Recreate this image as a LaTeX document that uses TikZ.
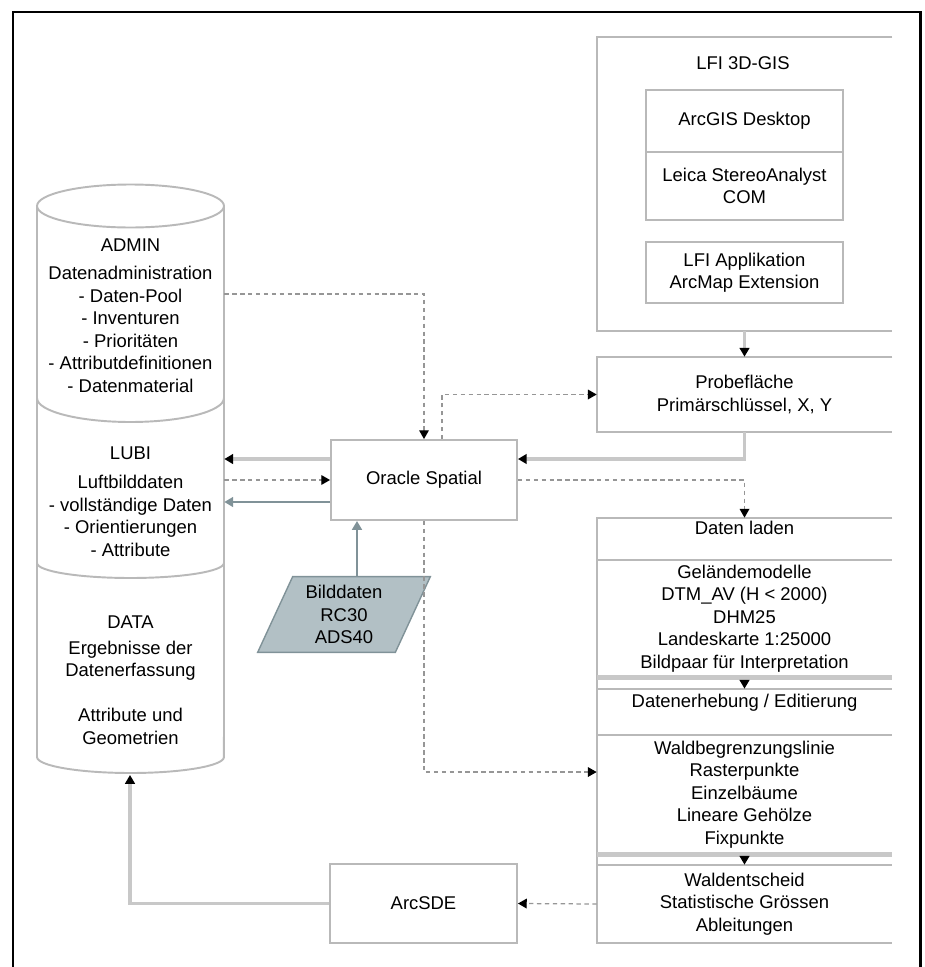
\documentclass[tikz,border=0pt]{standalone}
\usepackage{fontspec}
\setmainfont{Liberation Sans}
\usetikzlibrary{arrows.meta,positioning}

\definecolor{boxgray}{RGB}{185,185,185}
\definecolor{linegray}{RGB}{200,200,200}
\definecolor{dotgray}{RGB}{150,150,150}
\definecolor{bluegray}{RGB}{128,146,152}
\definecolor{bildfill}{RGB}{178,192,197}

\tikzset{
  boxline/.style={draw=boxgray, line width=1.1pt},
  txt/.style={align=center, inner sep=0pt, font=\fontsize{10.5}{12.8}\selectfont},
  framebox/.style={txt, boxline},
  openbox/.style={txt, minimum width=5.9cm},
  headbox/.style={openbox, text depth=0.43cm},
  solidarrow/.style={draw=linegray, line width=2.2pt, -{Triangle[length=5pt,width=5.5pt,color=black]}},
  dotarrow/.style={draw=dotgray, line width=0.7pt, dash pattern=on 2.5pt off 2pt, -{Triangle[length=5pt,width=5.5pt,color=black]}},
  bluearrow/.style={draw=bluegray, line width=1.4pt, -{Triangle[length=5pt,width=5.5pt]}}
}

\begin{document}
\begin{tikzpicture}[x=0.02cm, y=-0.02cm]
  \useasboundingbox (0,0) rectangle (925,967);

  % Outer frame
  \draw[line width=1.7pt] (13,967) -- (13,12) -- (920,12) -- (920,967);

  % Database cylinder
  \draw[boxline, fill=white] (37,206) -- (37,757)
    arc[start angle=180, end angle=360, x radius=1.87cm, y radius=0.32cm] -- (224,206);
  \draw[boxline] (130.5,206) ellipse[x radius=1.87cm, y radius=0.43cm];
  \draw[boxline] (37,398) arc[start angle=180, end angle=360, x radius=1.87cm, y radius=0.48cm];
  \draw[boxline] (37,563) arc[start angle=180, end angle=360, x radius=1.87cm, y radius=0.3cm];
  \coordinate (cylbot) at (130,775);

  \node[txt, minimum width=3.74cm] (admin) at (130.5,315.5)
    {ADMIN\\[3.5pt]Datenadministration\\- Daten-Pool\\- Inventuren\\- Prioritäten\\- Attributdefinitionen\\- Datenmaterial};
  \node[txt, minimum width=3.74cm] (lubi) at (130.5,501.5)
    {LUBI\\[4pt]Luftbilddaten\\- vollständige Daten\\- Orientierungen\\- Attribute};
  \node[txt, minimum width=3.74cm] (data) at (130.5,680)
    {DATA\\[2pt]Ergebnisse der\\Datenerfassung\\[12.8pt]Attribute und\\Geometrien};

  % LFI 3D-GIS
  \node[openbox, minimum height=5.88cm] (gis) at (744.5,184) {};
  \node[txt] (gistitle) at (743,63) {LFI 3D-GIS};
  \node[framebox, minimum width=3.94cm, minimum height=1.24cm] (arcgis) at (744.5,121) {ArcGIS Desktop};
  \node[framebox, minimum width=3.94cm, minimum height=1.36cm] (leica) at (744.5,186) {Leica StereoAnalyst\\COM};
  \node[framebox, minimum width=3.94cm, minimum height=1.22cm] (lfiapp) at (744.5,272.5) {LFI Applikation\\ArcMap Extension};
  \draw[boxline] (gis.north east) -- (gis.north west) -- (gis.south west) -- (gis.south east);

  \node[openbox, minimum height=1.5cm] (probe) at (744.5,394.5) {Probefläche\\Primärschlüssel, X, Y};
  \draw[boxline] (probe.north east) -- (probe.north west) -- (probe.south west) -- (probe.south east);

  \node[framebox, minimum width=3.72cm, minimum height=1.6cm] (oracle) at (424,480) {Oracle Spatial};

  % Workflow column
  \node[headbox, minimum height=0.84cm] (laden) at (744.5,539) {Daten laden};
  \node[openbox, minimum height=2.34cm] (gelaende) at (744.5,618.5)
    {Geländemodelle\\DTM\_AV (H < 2000)\\DHM25\\Landeskarte 1:25000\\Bildpaar für Interpretation};
  \node[headbox, minimum height=0.92cm] (erhebung) at (744.5,712) {Datenerhebung / Editierung};
  \node[openbox, minimum height=2.38cm] (wald) at (744.5,794.5)
    {Waldbegrenzungslinie\\Rasterpunkte\\Einzelbäume\\Lineare Gehölze\\Fixpunkte};
  \node[openbox, minimum height=1.56cm] (entscheid) at (744.5,904)
    {Waldentscheid\\Statistische Grössen\\Ableitungen};
  \draw[boxline] (laden.north east) -- (laden.north west) -- (entscheid.south west) -- (entscheid.south east);
  \foreach \n in {laden,erhebung,wald}
    \draw[boxline] (\n.south west) -- (\n.south east);
  \foreach \n in {erhebung,entscheid}
    \draw[boxline] (\n.north west) -- (\n.north east);
  \draw[draw=linegray, line width=2.5pt] (gelaende.south west) -- (gelaende.south east);
  \draw[draw=linegray, line width=2.5pt] (wald.south west) -- (wald.south east);

  \node[framebox, minimum width=3.74cm, minimum height=1.58cm] (arcsde) at (423.5,903.5) {ArcSDE};

  % Image data
  \node[txt, minimum width=3.44cm, minimum height=1.5cm] (bild) at (344,614.5) {Bilddaten\\RC30\\ADS40};
  \draw[draw=bluegray, line width=0.8pt, fill=bildfill] (bild.south west) -- ([xshift=0.7cm]bild.north west)
    -- (bild.north east) -- ([xshift=-0.7cm]bild.south east) -- cycle;
  \node[txt] at (bild) {Bilddaten\\RC30\\ADS40};

  % Connectors
  \draw[solidarrow] (gis.south) -- (probe.north);
  \draw[solidarrow] (probe.south) |- ([yshift=0.42cm]oracle.east);
  \draw[dotarrow] (oracle.east) -| (laden.north);
  \draw[dotarrow] ([yshift=0.43cm]admin.east) -| (oracle.north);
  \draw[dotarrow] ([xshift=0.36cm]oracle.north) |- (probe.west);
  \draw[dotarrow] (oracle.south) |- ([yshift=0.45cm]wald.west);
  \draw[solidarrow] ([yshift=0.42cm]oracle.west) -- ([yshift=0.42cm]oracle.west -| lubi.east);
  \draw[dotarrow] (oracle.west -| lubi.east) -- (oracle.west);
  \draw[bluearrow] ([yshift=-0.44cm]oracle.west) -- ([yshift=-0.44cm]oracle.west -| lubi.east);
  \draw[bluearrow] ([xshift=0.26cm]bild.north) -- ([xshift=0.26cm]bild.north |- oracle.south);
  \draw[solidarrow] (gelaende.south) -- (erhebung.north);
  \draw[solidarrow] (wald.south) -- (entscheid.north);
  \draw[dotarrow] (entscheid.west) -- (arcsde.east);
  \draw[solidarrow] (arcsde.west) -| (cylbot);
\end{tikzpicture}
\end{document}
